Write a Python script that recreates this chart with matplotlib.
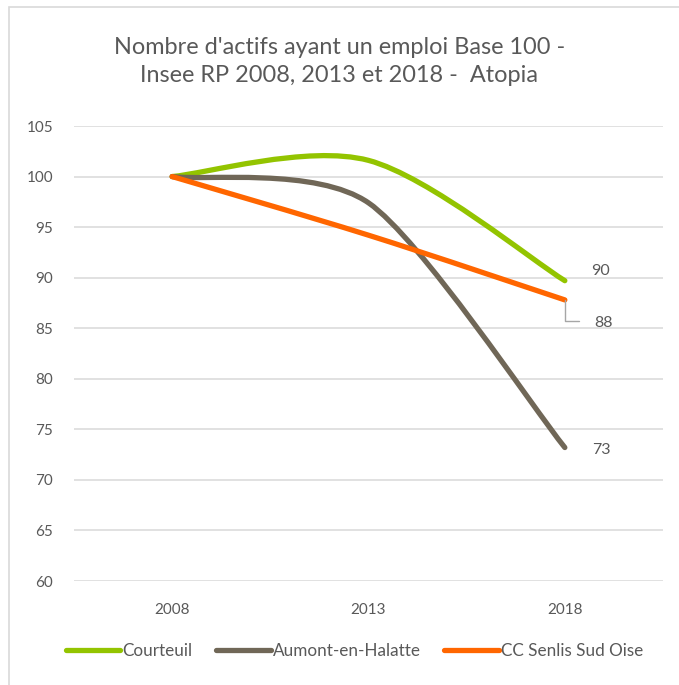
import numpy as np
import matplotlib.pyplot as plt
from matplotlib.path import Path
from matplotlib.patches import PathPatch, Rectangle
from matplotlib.lines import Line2D

plt.rcParams['font.family'] = ['Lato', 'DejaVu Sans']

# --- data ---
years = ['2008', '2013', '2018']
courteuil = [100, 101.6, 89.7]
aumont = [100, 97.4, 73.2]
senlis = [100, 94.2, 87.8]
end_labels = ['90', '73', '88']

series_names = ['Courteuil', 'Aumont-en-Halatte', 'CC Senlis Sud Oise']
colors = ['#93C400', '#706757', '#FF6600']
text_color = '#595959'
grid_color = '#D9D9D9'

fig = plt.figure(figsize=(6.79, 6.85), dpi=100)
ax = fig.add_axes([74 / 679, 1 - 581 / 685, (663 - 74) / 679, (581 - 126) / 685])

x = np.arange(len(years))
ax.set_xlim(-0.5, len(years) - 0.5)
ax.set_ylim(60, 105)


def smooth_path(xs, ys, ax, k=1 / 6):
    # smoothed line: cubic Bezier segments, tangents parallel to the
    # neighbour chord, shortened when adjacent segments differ in length
    bbox = ax.get_window_extent()
    xr = ax.get_xlim()[1] - ax.get_xlim()[0]
    yr = ax.get_ylim()[1] - ax.get_ylim()[0]
    sx, sy = bbox.width / xr, bbox.height / yr
    pts = np.column_stack([xs, ys]).astype(float)
    scr = pts * [sx, sy]
    n = len(pts)
    tang = []
    for i in range(n):
        a = scr[max(i - 1, 0)]
        b = scr[min(i + 1, n - 1)]
        f = k
        if 0 < i < n - 1:
            l1 = np.linalg.norm(scr[i] - a)
            l2 = np.linalg.norm(b - scr[i])
            f = k * np.sqrt(min(l1, l2) / max(l1, l2))
        tang.append((b - a) * f)
    verts = [scr[0]]
    codes = [Path.MOVETO]
    for i in range(n - 1):
        verts += [scr[i] + tang[i], scr[i + 1] - tang[i + 1], scr[i + 1]]
        codes += [Path.CURVE4] * 3
    verts = np.array(verts) / [sx, sy]
    return Path(verts, codes)


for vals, col in zip([courteuil, aumont, senlis], colors):
    patch = PathPatch(smooth_path(x, vals, ax), facecolor='none', edgecolor=col,
                      lw=3.8, capstyle='round', joinstyle='round', zorder=3)
    ax.add_patch(patch)

# end-of-line value labels
lab_kw = dict(textcoords='offset points', fontsize=11.5, color=text_color,
              va='center', ha='left')
ax.annotate(end_labels[0], xy=(x[-1], courteuil[-1]), xytext=(19, 7), **lab_kw)
ax.annotate(end_labels[1], xy=(x[-1], aumont[-1]), xytext=(20, -1.5), **lab_kw)
ax.annotate(end_labels[2], xy=(x[-1], senlis[-1]), xytext=(21, -16.5), **lab_kw)
ax.annotate('', xy=(x[-1], senlis[-1]), xytext=(10.5, -15.5),
            textcoords='offset points',
            arrowprops=dict(arrowstyle='-', color='#A6A6A6', lw=1,
                            shrinkA=0, shrinkB=0,
                            connectionstyle='angle,angleA=180,angleB=90,rad=0'))

# axes styling
ax.set_xticks(x)
ax.set_xticklabels(years)
ax.set_yticks(np.arange(60, 106, 5))
ax.tick_params(axis='both', length=0, labelsize=11, colors=text_color)
ax.tick_params(axis='y', pad=15)
ax.tick_params(axis='x', pad=16)
ax.yaxis.grid(True, color=grid_color, lw=1.1)
ax.set_axisbelow(True)
for s in ax.spines.values():
    s.set_visible(False)

fig.text(0.5, 1 - 47 / 685, "Nombre d'actifs ayant un emploi Base 100 -",
         ha='center', va='center', fontsize=16.9, color=text_color)
fig.text(0.5, 1 - 76 / 685, "Insee RP 2008, 2013 et 2018 -  Atopia",
         ha='center', va='center', fontsize=16.9, color=text_color)

handles = [Line2D([], [], color=c, lw=3.8, solid_capstyle='round') for c in colors]
fig.legend(handles, series_names, loc='center',
           bbox_to_anchor=(0.522, 1 - 651 / 685),
           ncol=3, frameon=False, fontsize=12.3, labelcolor=text_color,
           handlelength=3.2, handletextpad=0.1, columnspacing=1.4)

# chart area border
fig.patches.append(Rectangle((9 / 679, -0.02), 1.05, 1 - 7 / 685 + 0.02,
                             transform=fig.transFigure, fill=False,
                             edgecolor=grid_color, lw=1.2))

fig.savefig('out.png', dpi=100)
